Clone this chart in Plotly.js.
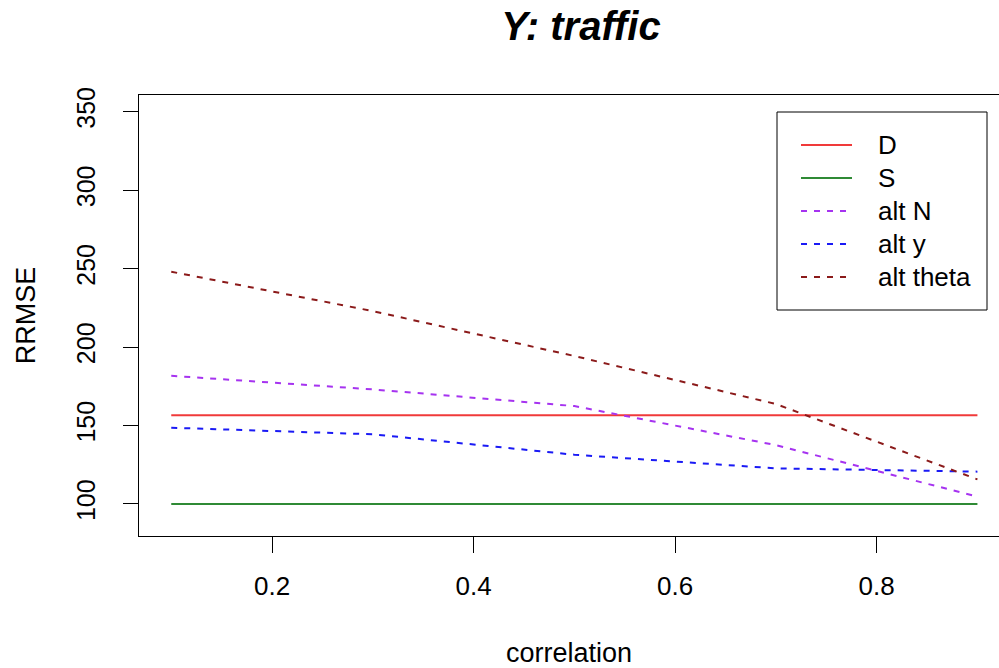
<!DOCTYPE html>
<html>
<head>
<meta charset="utf-8">
<script src="https://cdn.plot.ly/plotly-3.0.1.min.js"></script>
<style>html,body{margin:0;padding:0;background:#fff;}#chart{width:999px;height:668px;}</style>
</head>
<body>
<div id="chart"></div>
<script>
// Data
const correlation = [0.1, 0.3, 0.5, 0.7, 0.9];
const seriesNames = ["D", "S", "alt N", "alt y", "alt theta"];
const D_vals = [156.5, 156.5, 156.5, 156.5, 156.5];
const S_vals = [100, 100, 100, 100, 100];
const altN_vals = [181.7, 173.0, 162.4, 137.5, 104.7];
const altY_vals = [148.6, 144.4, 131.4, 122.7, 120.6];
const altTheta_vals = [248.0, 222.9, 194.3, 163.7, 115.7];
const xTicks = [0.2, 0.4, 0.6, 0.8];
const yTicks = [100, 150, 200, 250, 300, 350];

const colors = ["#f03a3a", "#2f8a35", "#a633f0", "#1a1af5", "#8b1a1a"];
const dashes = ["solid", "solid", "6px,7px", "6px,7px", "6px,7px"];
const values = [D_vals, S_vals, altN_vals, altY_vals, altTheta_vals];

const traces = seriesNames.map((name, i) => ({
  x: correlation,
  y: values[i],
  name: name,
  type: "scatter",
  mode: "lines",
  showlegend: false,
  line: {color: colors[i], width: 2, dash: dashes[i]}
}));

const font = "Liberation Sans, Arial, Helvetica, sans-serif";

// Plot area geometry in pixels (for placing the legend box in paper coordinates)
const plotL = 139, plotW = 860, plotB = 536, plotH = 441;
const px = v => (v - plotL) / plotW;
const py = v => (plotB - v) / plotH;

// Legend (R-style box legend) built from the series names / colours
const legShapes = [{
  type: "rect", xref: "paper", yref: "paper",
  x0: px(777), x1: px(987), y0: py(310), y1: py(112),
  line: {color: "#000", width: 1}, fillcolor: "#ffffff", layer: "above"
}];
const legAnn = [];
seriesNames.forEach((name, i) => {
  const yy = 145 + i * 33;
  legShapes.push({
    type: "line", xref: "paper", yref: "paper",
    x0: px(801), x1: px(852), y0: py(yy), y1: py(yy),
    line: {color: colors[i], width: 2, dash: dashes[i]}, layer: "above"
  });
  legAnn.push({
    xref: "paper", yref: "paper", x: px(876), y: py(yy),
    xanchor: "left", yanchor: "middle", showarrow: false,
    text: name, font: {size: 26, color: "#000"}
  });
});

const layout = {
  width: 999,
  height: 668,
  margin: {l: 139, r: 0, t: 95, b: 132},
  paper_bgcolor: "#ffffff",
  plot_bgcolor: "#ffffff",
  font: {family: font, size: 25, color: "#000"},
  title: {
    text: "<b><i>Y: traffic</i></b>",
    font: {family: font, size: 40, color: "#000"},
    xref: "container", x: 0.5816, xanchor: "center",
    yref: "container", y: 0.9610, yanchor: "middle"
  },
  xaxis: {
    range: [0.068, 0.9214],
    tickvals: xTicks,
    ticktext: xTicks.map(v => v.toFixed(1)),
    ticks: "outside", ticklen: 16, tickwidth: 1, tickcolor: "#000",
    showline: true, linecolor: "#000", linewidth: 1, mirror: true,
    showgrid: false, zeroline: false,
    ticklabelstandoff: 11,
    tickfont: {size: 26},
    title: {text: "correlation", font: {size: 27}, standoff: 49},
    automargin: false
  },
  yaxis: {
    range: [79.6, 360.6],
    tickvals: yTicks,
    ticks: "outside", ticklen: 15, tickwidth: 1, tickcolor: "#000",
    tickangle: -90,
    showline: true, linecolor: "#000", linewidth: 1, mirror: false,
    showgrid: false, zeroline: false,
    ticklabelstandoff: 18,
    tickfont: {size: 25},
    title: {text: "RRMSE", font: {size: 27}, standoff: 28},
    automargin: false
  },
  shapes: legShapes,
  annotations: legAnn,
  showlegend: false
};

Plotly.newPlot("chart", traces, layout, {staticPlot: true, displayModeBar: false});
</script>
</body>
</html>
